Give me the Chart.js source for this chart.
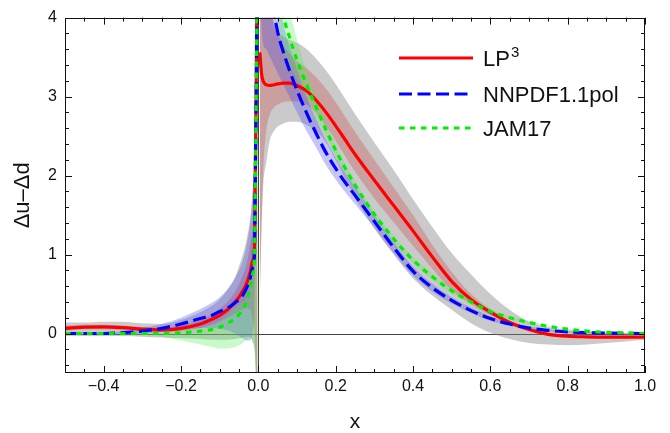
<!DOCTYPE html>
<html><head><meta charset="utf-8">
<script src="https://cdn.jsdelivr.net/npm/chart.js@4.4.1/dist/chart.umd.min.js"></script>
<style>html,body{margin:0;padding:0;background:#fff;}</style>
</head><body>
<canvas id="c" width="670" height="433"></canvas>
<script>
// ---------- data ----------
const xNeg = [-0.5,-0.45,-0.4,-0.35,-0.3,-0.25,-0.2,-0.15,-0.12,-0.1,-0.08,-0.06,-0.05,-0.04,-0.03,-0.02,-0.015,-0.01,-0.008,-0.006,-0.004,-0.002];
const xPos = [0.004,0.008,0.013,0.02,0.03,0.04,0.05,0.065,0.08,0.1,0.125,0.15,0.175,0.2,0.225,0.25,0.3,0.35,0.4,0.45,0.5,0.55,0.6,0.65,0.7,0.75,0.8,0.85,0.9,0.95,1.0];

// LP3 (red)
const lp3Neg   = [0.065,0.08,0.085,0.075,0.055,0.045,0.065,0.12,0.18,0.23,0.30,0.40,0.46,0.54,0.64,0.80,0.92,1.08,2.0,2.9,4.2,8];
const lp3Pos   = [3.56,3.3,3.19,3.15,3.14,3.15,3.16,3.17,3.17,3.14,3.07,2.95,2.8,2.63,2.45,2.27,1.94,1.62,1.3,0.97,0.66,0.43,0.27,0.14,0.05,-0.01,-0.035,-0.042,-0.045,-0.045,-0.045];
const lp3NegHi = [0.1,0.11,0.11,0.1,0.08,0.07,0.1,0.17,0.24,0.31,0.4,0.53,0.62,0.74,0.9,1.15,1.35,1.8,2.6,3.6,5,9];
const lp3NegLo = [0.03,0.05,0.05,0.04,0.03,0.02,0.03,0.07,0.11,0.15,0.2,0.25,0.28,0.3,0.32,0.3,0.2,0.0,-0.2,-0.5,-1,-3];
const lp3PosHi = [12,8,6,4.8,4.2,3.95,3.8,3.65,3.55,3.45,3.36,3.24,3.1,2.93,2.74,2.55,2.2,1.85,1.5,1.12,0.78,0.5,0.31,0.16,0.07,0.01,-0.02,-0.03,-0.03,-0.03,-0.03];
const lp3PosLo = [0.4,1.3,2.1,2.55,2.78,2.86,2.9,2.93,2.94,2.94,2.9,2.79,2.63,2.44,2.24,2.05,1.71,1.41,1.11,0.82,0.55,0.37,0.23,0.12,0.03,-0.03,-0.05,-0.06,-0.06,-0.055,-0.055];

// grey band
const greyNegHi = [0.14,0.14,0.15,0.15,0.13,0.12,0.17,0.27,0.35,0.43,0.55,0.72,0.85,1.0,1.2,1.5,1.8,2.3,3,4,6,9];
const greyNegLo = [-0.03,-0.03,-0.03,-0.03,-0.04,-0.05,-0.06,-0.07,-0.08,-0.08,-0.08,-0.07,-0.06,-0.05,-0.04,-0.05,-0.1,-0.2,-0.35,-0.6,-1.5,-3];
const greyPosHi = [12,8,6,5,4.3,3.9,3.82,3.76,3.72,3.68,3.6,3.48,3.33,3.16,2.97,2.78,2.42,2.07,1.7,1.35,1.02,0.75,0.5,0.3,0.15,0.08,0.045,0.025,0.01,0.0,-0.01];
const greyPosLo = [0.5,1.3,1.9,2.15,2.45,2.56,2.62,2.66,2.68,2.68,2.64,2.56,2.42,2.2,1.95,1.72,1.33,1.0,0.7,0.48,0.3,0.13,0.01,-0.07,-0.12,-0.14,-0.15,-0.14,-0.12,-0.1,-0.08];

// NNPDF1.1pol (blue)
const nnNeg   = [0.0,0.0,0.0,0.01,0.03,0.065,0.12,0.19,0.23,0.28,0.32,0.39,0.43,0.49,0.58,0.72,0.83,1.0,1.9,2.8,4.1,8];
const nnPos   = [14,10,7.5,5.6,4.6,4.1,3.82,3.56,3.34,3.08,2.79,2.53,2.29,2.09,1.91,1.75,1.42,1.09,0.79,0.58,0.42,0.29,0.19,0.12,0.07,0.04,0.02,0.01,0.005,0.002,0];
const nnNegHi = [0.02,0.02,0.02,0.03,0.07,0.12,0.2,0.31,0.39,0.46,0.56,0.7,0.8,0.93,1.12,1.45,1.75,2.3,3.2,4.5,6.5,10];
const nnNegLo = [-0.02,-0.02,-0.02,-0.01,0.0,0.02,0.04,0.07,0.07,0.06,0.04,0.0,-0.03,-0.06,-0.09,-0.08,0.0,0.3,1.0,1.8,3.0,6];
const nnPosHi = [16,12,9,7,5.6,4.8,4.3,3.92,3.64,3.35,3.0,2.71,2.45,2.23,2.03,1.86,1.5,1.16,0.85,0.63,0.46,0.33,0.22,0.14,0.09,0.055,0.03,0.018,0.01,0.006,0.005];
const nnPosLo = [4.5,3.9,3.65,3.6,3.5,3.4,3.3,3.15,3.0,2.8,2.56,2.35,2.13,1.95,1.79,1.64,1.34,1.02,0.73,0.53,0.38,0.26,0.16,0.1,0.05,0.025,0.01,0.003,0,-0.002,-0.005];

// JAM17 (green)
const jamNeg   = [0,0,0,0,0,0.0,0.01,0.03,0.05,0.08,0.13,0.19,0.24,0.31,0.42,0.6,0.75,0.98,1.8,2.7,4.0,8];
const jamPos   = [12,9,7.5,6.4,5.5,4.9,4.45,4.02,3.76,3.46,3.15,2.86,2.58,2.32,2.09,1.88,1.51,1.2,0.93,0.72,0.54,0.40,0.28,0.2,0.14,0.09,0.055,0.03,0.015,0.007,0];
const jamNegHi = [0.01,0.01,0.01,0.01,0.01,0.01,0.03,0.07,0.11,0.16,0.24,0.33,0.37,0.40,0.46,0.66,0.8,1.1,2.0,3.0,4.3,9];
const jamNegLo = [-0.01,-0.01,-0.01,-0.01,-0.02,-0.04,-0.09,-0.14,-0.17,-0.19,-0.19,-0.17,-0.15,-0.12,-0.08,-0.05,-0.1,-0.2,-0.4,-0.8,-2,-4];
const jamPosHi = [14,11,9,7.6,6.4,5.6,5.0,4.5,4.12,3.72,3.32,2.98,2.67,2.39,2.15,1.93,1.55,1.24,0.97,0.76,0.57,0.43,0.31,0.22,0.16,0.1,0.065,0.04,0.02,0.01,0.005];
const jamPosLo = [10,7.5,6.2,5.3,4.6,4.2,3.95,3.6,3.4,3.22,2.98,2.74,2.49,2.25,2.03,1.83,1.46,1.16,0.89,0.68,0.51,0.37,0.25,0.18,0.12,0.08,0.045,0.02,0.01,0.004,-0.005];

// axes / ticks / text
const xTickVals = [-0.4,-0.2,0.0,0.2,0.4,0.6,0.8,1.0];
const xTickLabels = ['\u22120.4','\u22120.2','0.0','0.2','0.4','0.6','0.8','1.0'];
const xMinorVals = [-0.45,-0.35,-0.3,-0.25,-0.15,-0.1,-0.05,0.05,0.1,0.15,0.25,0.3,0.35,0.45,0.5,0.55,0.65,0.7,0.75,0.85,0.9,0.95];
const yTickVals = [0,1,2,3,4];
const yTickLabels = ['0','1','2','3','4'];
const yMinorVals = [-0.4,-0.2,0.2,0.4,0.6,0.8,1.2,1.4,1.6,1.8,2.2,2.4,2.6,2.8,3.2,3.4,3.6,3.8];
const seriesNames = ['LP', 'NNPDF1.1pol', 'JAM17'];
const xTitle = 'x';
const yTitle = '\u0394u\u2013\u0394d';

// ---------- build ----------
const FONT = "'Liberation Sans', Arial, sans-serif";
const pts = (xs, ys) => xs.map((x, i) => ({x: x, y: ys[i]}));
const datasets = [];
function band(xs, lo, hi, color, order) {
  datasets.push({data: pts(xs, lo), borderWidth: 0, pointRadius: 0, fill: false, order: order, clip: 0, cubicInterpolationMode: 'monotone'});
  const idx = datasets.length - 1;
  datasets.push({data: pts(xs, hi), borderWidth: 0, pointRadius: 0, fill: idx, backgroundColor: color, order: order, clip: 0, cubicInterpolationMode: 'monotone'});
}
function line(xs, ys, color, dash, order) {
  datasets.push({data: pts(xs, ys), borderColor: color, borderWidth: 3.2, borderDash: dash, pointRadius: 0, fill: false, order: order, clip: 0, cubicInterpolationMode: 'monotone', borderCapStyle: 'butt'});
}
const cGrey = 'rgba(128,128,128,0.42)';
const cRed = 'rgba(200,60,60,0.30)';
const cBlue = 'rgba(80,80,230,0.33)';
const cGreen = 'rgba(80,240,80,0.30)';
band(xNeg, greyNegLo, greyNegHi, cGrey, 20);
band(xPos, greyPosLo, greyPosHi, cGrey, 20);
band(xNeg, lp3NegLo, lp3NegHi, cRed, 19);
band(xPos, lp3PosLo, lp3PosHi, cRed, 19);
band(xNeg, nnNegLo, nnNegHi, cBlue, 18);
band(xPos, nnPosLo, nnPosHi, cBlue, 18);
band(xNeg, jamNegLo, jamNegHi, cGreen, 17);
band(xPos, jamPosLo, jamPosHi, cGreen, 17);
const RED = '#ff0000', BLUE = '#0000ff', GREEN = '#00ee00';
const DASH = [13, 5.5], DOT = [5.5, 5.5];
line(xNeg, lp3Neg, RED, [], 3);
line(xPos, lp3Pos, RED, [], 3);
line(xNeg, nnNeg, BLUE, DASH, 2);
line(xPos, nnPos, BLUE, DASH, 2);
line(xNeg, jamNeg, GREEN, DOT, 1);
line(xPos, jamPos, GREEN, DOT, 1);

const decor = {
  id: 'decor',
  beforeDatasetsDraw(chart) {
    const {ctx, chartArea: a, scales: {x, y}} = chart;
    ctx.save();
    ctx.strokeStyle = '#444'; ctx.lineWidth = 1;
    const y0 = Math.round(y.getPixelForValue(0)) + 0.5;
    const x0 = Math.round(x.getPixelForValue(0)) + 0.5;
    ctx.beginPath();
    ctx.moveTo(a.left, y0); ctx.lineTo(a.right, y0);
    ctx.moveTo(x0, a.top); ctx.lineTo(x0, a.bottom);
    ctx.stroke();
    ctx.restore();
  },
  afterDraw(chart) {
    const {ctx, chartArea: a, scales: {x, y}} = chart;
    ctx.save();
    ctx.strokeStyle = '#111'; ctx.lineWidth = 1;
    ctx.strokeRect(Math.round(a.left) + 0.5, Math.round(a.top) + 0.5, Math.round(a.right - a.left) - 1, Math.round(a.bottom - a.top) - 1);
    ctx.beginPath();
    const xt = (v, len) => { const p = Math.round(x.getPixelForValue(v)) + 0.5;
      ctx.moveTo(p, a.bottom); ctx.lineTo(p, a.bottom - len);
      ctx.moveTo(p, a.top); ctx.lineTo(p, a.top + len); };
    const yt = (v, len) => { const p = Math.round(y.getPixelForValue(v)) + 0.5;
      ctx.moveTo(a.left, p); ctx.lineTo(a.left + len, p);
      ctx.moveTo(a.right, p); ctx.lineTo(a.right - len, p); };
    xTickVals.forEach(v => xt(v, 7));
    xMinorVals.forEach(v => xt(v, 4));
    yTickVals.forEach(v => yt(v, 7));
    yMinorVals.forEach(v => yt(v, 4));
    ctx.stroke();

    // axis titles
    ctx.fillStyle = '#111';
    ctx.font = '21px ' + FONT;
    ctx.textAlign = 'center'; ctx.textBaseline = 'middle';
    ctx.fillText(xTitle, (a.left + a.right) / 2, 422);
    ctx.save();
    ctx.translate(23, (a.top + a.bottom) / 2);
    ctx.rotate(-Math.PI / 2);
    ctx.font = '22px ' + FONT;
    ctx.fillText(yTitle, 0, 0);
    ctx.restore();

    // legend
    const rows = [{c: RED, d: [], yy: 58}, {c: BLUE, d: DASH, yy: 94}, {c: GREEN, d: DOT, yy: 128}];
    rows.forEach((r, i) => {
      ctx.save();
      ctx.strokeStyle = r.c; ctx.lineWidth = 3.2; ctx.setLineDash(r.d); ctx.lineCap = 'butt';
      ctx.beginPath(); ctx.moveTo(399, r.yy); ctx.lineTo(473, r.yy); ctx.stroke();
      ctx.restore();
      ctx.fillStyle = '#111';
      ctx.font = '22px ' + FONT;
      ctx.textAlign = 'left'; ctx.textBaseline = 'alphabetic';
      ctx.fillText(seriesNames[i], 483, r.yy + 8);
      if (i === 0) {
        const w = ctx.measureText(seriesNames[0]).width;
        ctx.font = '15px ' + FONT;
        ctx.fillText('3', 483 + w + 1, r.yy - 1);
      }
    });
    ctx.restore();
  }
};

new Chart(document.getElementById('c'), {
  type: 'line',
  data: {datasets: datasets},
  plugins: [decor],
  options: {
    responsive: false, animation: false, devicePixelRatio: 1,
    layout: {padding: {left: 0, top: 15, right: 25, bottom: 0}},
    plugins: {legend: {display: false}, tooltip: {enabled: false}},
    elements: {point: {radius: 0}},
    scales: {
      x: {
        type: 'linear', min: -0.5, max: 1.0,
        grid: {display: false, drawTicks: false},
        border: {display: false},
        afterBuildTicks: s => { s.ticks = xTickVals.map(v => ({value: v})); },
        afterFit: s => { s.height = 60; },
        ticks: {
          padding: 4, color: '#111', maxRotation: 0, autoSkip: false,
          font: {family: FONT, size: 16},
          callback: (v, i) => xTickLabels[i]
        }
      },
      y: {
        type: 'linear', min: -0.5, max: 4,
        grid: {display: false, drawTicks: false},
        border: {display: false},
        afterBuildTicks: s => { s.ticks = yTickVals.map(v => ({value: v})); },
        afterFit: s => { s.width = 65; },
        ticks: {
          padding: 8, color: '#111', autoSkip: false,
          font: {family: FONT, size: 16},
          callback: (v, i) => yTickLabels[i]
        }
      }
    }
  }
});
</script>
</body></html>
